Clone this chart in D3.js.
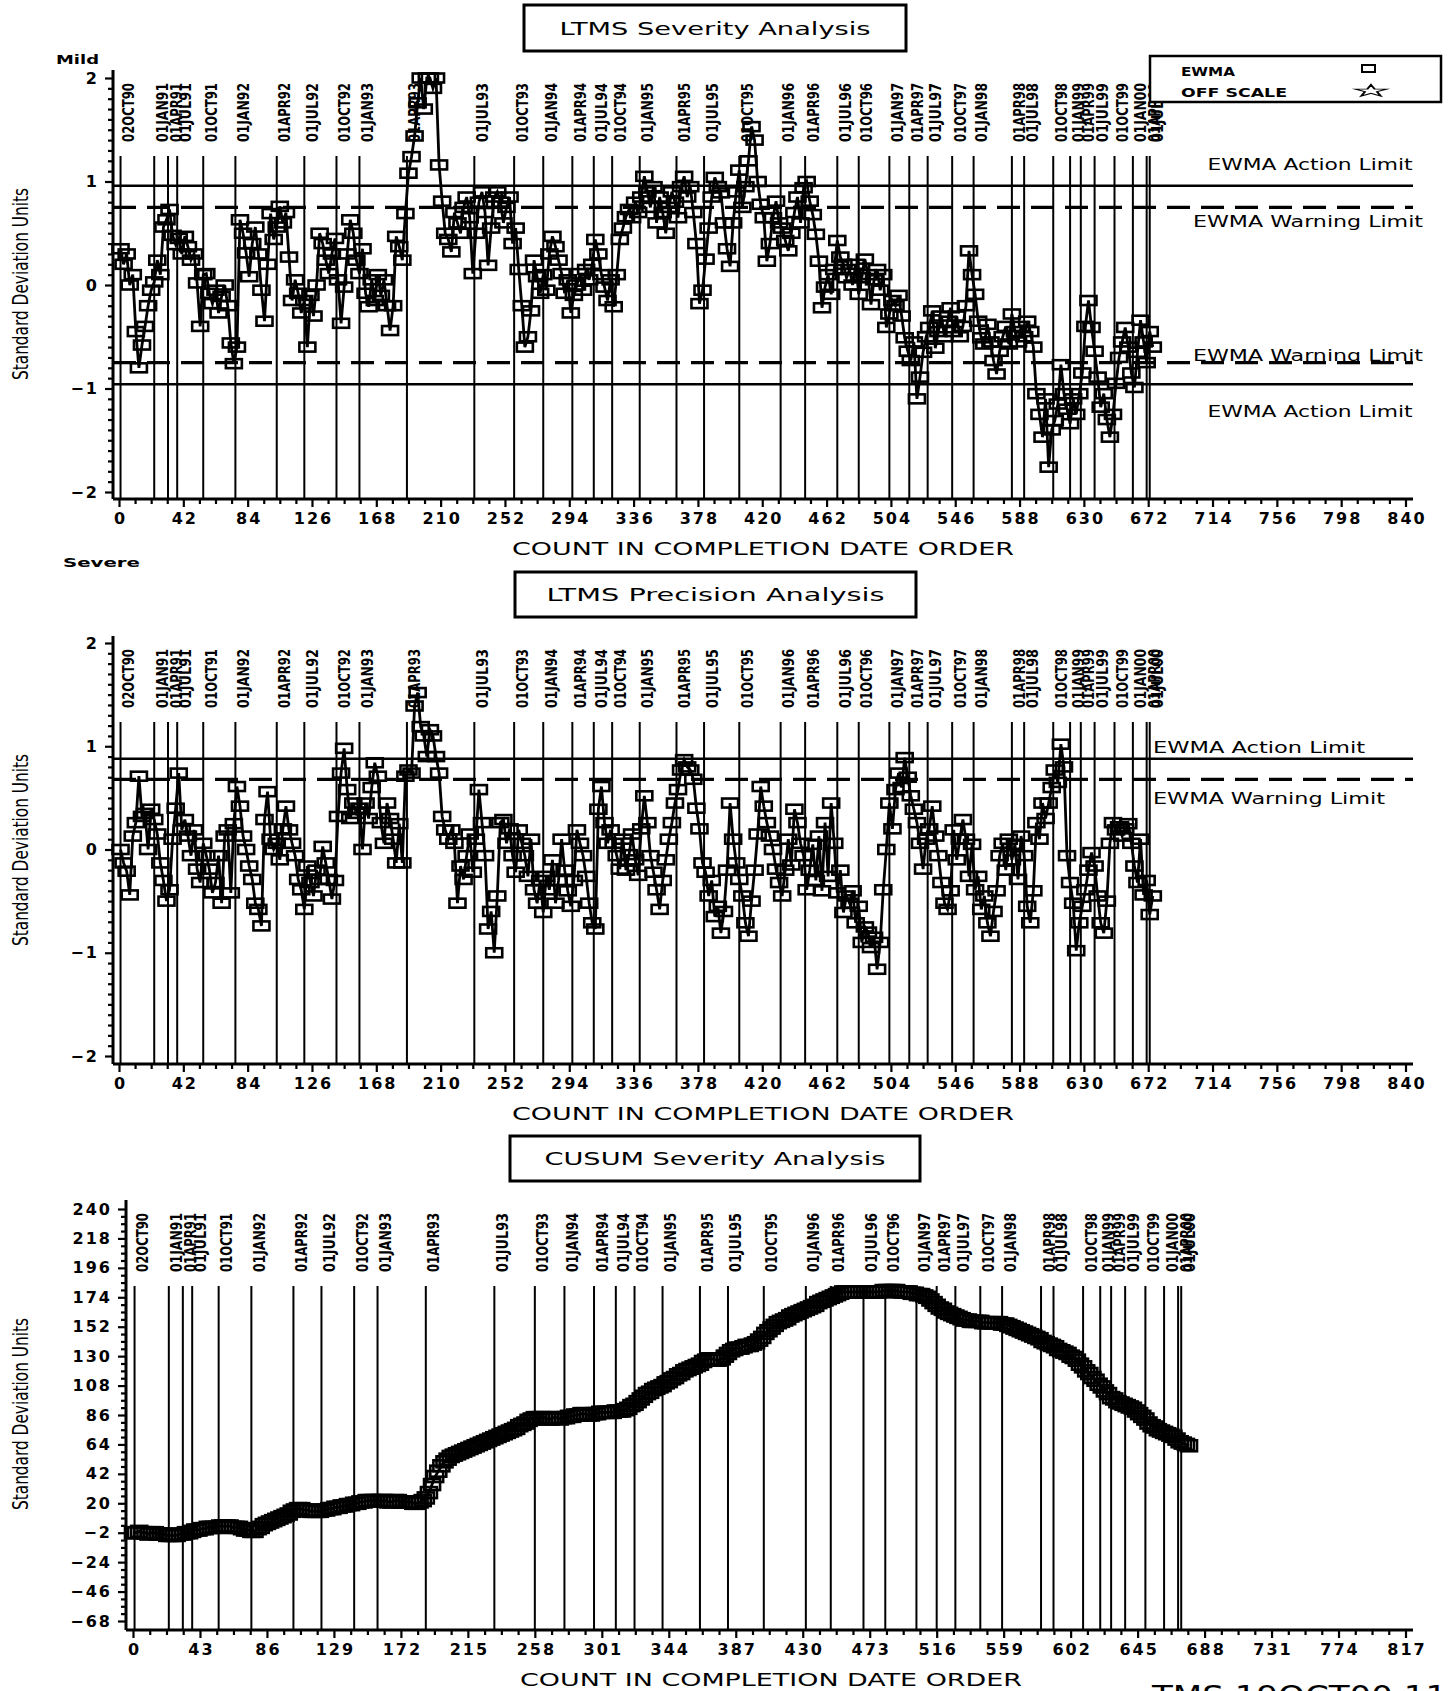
<!DOCTYPE html>
<html>
<head>
<meta charset="utf-8">
<script src="https://cdn.jsdelivr.net/npm/d3@7"></script>
<style>
  body { margin: 0; background: #fff; }
  svg { display: block; }
</style>
</head>
<body>
<svg id="chart" width="1452" height="1691"></svg>
<script>
// ---- Data -----------------------------------------------------------------

// Calendar reference lines: label and test count at which each date falls
const dateLabels = ["02OCT90","01JAN91","01APR91","01JUL91","01OCT91","01JAN92","01APR92","01JUL92",
  "01OCT92","01JAN93","01APR93","01JUL93","01OCT93","01JAN94","01APR94","01JUL94","01OCT94","01JAN95",
  "01APR95","01JUL95","01OCT95","01JAN96","01APR96","01JUL96","01OCT96","01JAN97","01APR97","01JUL97",
  "01OCT97","01JAN98","01APR98","01JUL98","01OCT98","01JAN99","01APR99","01JUL99","01OCT99","01JAN00",
  "01APR00","01JUL00"];
const dateCounts = [1,23,32,38,55,76,103,121,142,157,188,232,258,277,296,310,322,340,364,382,405,432,
  448,469,483,503,516,528,544,558,583,591,610,621,628,637,650,662,671,673];

// EWMA of severity, one value every 2nd test starting at count 1
const severityEwma = [
  0.35,0.20,0.30,0.00,0.10,-0.45,-0.80,-0.58,-0.40,-0.20,
  -0.05,0.03,0.24,0.10,0.56,0.63,0.73,0.48,0.39,0.45,
  0.30,0.47,0.37,0.24,0.30,0.02,-0.40,0.10,0.11,-0.08,
  -0.18,-0.05,-0.27,-0.11,0.00,-0.20,-0.56,-0.76,-0.60,0.63,
  0.50,0.31,0.08,0.40,0.56,0.30,-0.05,-0.35,0.20,0.69,
  0.44,0.56,0.76,0.60,0.70,0.27,-0.15,0.05,-0.08,-0.27,
  -0.15,-0.60,-0.10,-0.30,0.00,0.50,0.40,0.24,0.11,0.30,
  0.45,0.05,-0.37,-0.02,0.30,0.63,0.50,0.24,0.11,0.35,
  -0.08,-0.21,0.05,-0.15,0.10,-0.10,0.05,-0.20,-0.44,-0.20,
  0.47,0.37,0.24,0.69,1.08,1.24,1.44,1.76,2.00,1.70,
  2.00,2.00,1.90,2.00,1.16,0.81,0.50,0.44,0.32,0.70,
  0.60,0.50,0.75,0.85,0.65,0.11,0.50,0.80,0.90,0.70,
  0.19,0.55,0.85,0.90,0.80,0.60,0.75,0.85,0.40,0.55,
  0.15,-0.20,-0.60,-0.50,-0.25,0.24,0.08,-0.08,0.10,-0.05,
  0.30,0.47,0.37,0.24,0.11,-0.08,0.05,-0.27,-0.10,0.00,
  0.11,-0.05,0.15,0.05,0.20,0.44,0.30,0.10,-0.02,-0.15,
  0.05,-0.21,0.10,0.44,0.55,0.66,0.73,0.65,0.80,0.70,
  0.85,1.05,0.90,0.75,0.95,0.60,0.85,0.70,0.50,0.75,
  0.90,0.80,0.65,0.95,1.05,0.85,0.95,0.70,0.40,-0.18,
  -0.05,0.25,0.55,0.85,1.04,0.95,0.89,0.60,0.35,0.18,
  0.60,0.90,1.11,0.75,0.95,1.20,1.53,1.40,1.00,0.78,
  0.65,0.23,0.40,0.65,0.81,0.60,0.55,0.43,0.33,0.50,
  0.70,0.85,0.60,0.94,1.00,0.81,0.68,0.49,0.23,-0.22,
  -0.02,0.10,-0.09,0.15,0.43,0.27,0.20,0.07,0.15,0.00,
  0.20,-0.09,0.07,0.25,0.10,-0.19,0.05,0.15,-0.05,0.10,
  -0.41,-0.28,-0.15,-0.20,-0.10,-0.30,-0.51,-0.64,-0.73,-0.55,
  -1.10,-0.89,-0.65,-0.50,-0.41,-0.25,-0.61,-0.45,-0.30,-0.50,
  -0.35,-0.22,-0.45,-0.30,-0.50,-0.40,-0.20,0.33,0.10,-0.09,
  -0.35,-0.51,-0.57,-0.38,-0.55,-0.73,-0.86,-0.64,-0.50,-0.40,
  -0.57,-0.28,-0.45,-0.55,-0.40,-0.50,-0.35,-0.45,-0.60,-1.05,
  -1.25,-1.47,-1.10,-1.76,-1.40,-1.31,-1.15,-0.77,-1.05,-1.20,
  -1.34,-1.10,-1.25,-1.05,-0.85,-0.40,-0.15,-0.41,-0.64,-0.89,
  -1.18,-1.05,-1.30,-1.47,-1.25,-0.95,-0.70,-0.55,-0.41,-0.60,
  -0.85,-0.99,-0.65,-0.34,-0.55,-0.75,-0.45,-0.60
];

// EWMA of precision, one value every 2nd test starting at count 1
const precisionEwma = [
  0.00,-0.13,-0.21,-0.44,0.13,0.26,0.71,0.32,0.35,0.00,
  0.39,0.29,0.15,-0.13,-0.30,-0.50,-0.39,0.10,0.40,0.74,
  0.19,0.29,0.13,-0.06,0.19,-0.19,-0.32,0.06,-0.06,-0.19,
  -0.42,-0.32,-0.06,-0.52,0.13,0.19,-0.42,0.25,0.61,0.42,
  0.13,0.00,-0.16,-0.29,-0.52,-0.58,-0.74,0.29,0.56,0.10,
  0.00,0.06,-0.10,0.20,0.42,0.19,0.06,-0.06,-0.29,-0.39,
  -0.58,-0.16,-0.32,-0.45,-0.20,-0.29,0.03,-0.13,-0.29,-0.48,
  -0.30,0.32,0.74,0.98,0.58,0.30,0.45,0.35,0.40,0.00,
  0.45,0.30,0.60,0.84,0.71,0.26,0.06,0.45,0.30,0.10,
  -0.13,0.25,-0.13,0.71,0.77,0.74,1.39,1.52,1.19,1.10,
  0.90,1.16,1.10,0.90,0.74,0.32,0.19,0.10,0.19,0.06,
  -0.52,-0.16,-0.29,-0.06,0.15,-0.22,0.10,0.58,0.26,-0.06,
  -0.77,-0.60,-1.00,-0.45,0.26,0.29,0.06,0.20,-0.06,-0.22,
  0.19,0.06,-0.06,-0.26,0.10,-0.39,-0.52,-0.30,-0.61,-0.26,
  -0.39,-0.10,-0.52,-0.30,0.10,-0.20,-0.40,-0.55,-0.30,0.19,
  0.06,-0.06,-0.26,-0.52,-0.71,-0.77,0.39,0.61,0.26,0.06,
  0.19,0.06,-0.06,-0.19,0.10,-0.20,-0.05,0.15,-0.10,-0.25,
  0.20,0.52,0.26,-0.06,-0.22,-0.39,-0.58,-0.30,-0.10,0.10,
  0.26,0.45,0.58,0.77,0.87,0.80,0.77,0.68,0.40,0.20,
  -0.13,-0.22,-0.45,-0.30,-0.65,-0.55,-0.81,-0.60,-0.20,0.45,
  0.10,-0.13,-0.29,-0.45,-0.71,-0.84,-0.50,-0.20,0.15,0.61,
  0.42,0.26,0.13,0.00,-0.19,-0.32,-0.45,-0.20,0.10,-0.15,
  0.39,0.26,0.06,-0.06,-0.39,-0.20,0.05,-0.30,0.13,-0.40,
  0.26,-0.26,0.45,0.06,-0.42,-0.20,-0.61,-0.45,-0.52,-0.40,
  -0.71,-0.55,-0.90,-0.75,-0.80,-0.95,-0.85,-1.16,-0.90,-0.39,
  0.00,0.45,0.20,0.58,0.74,0.60,0.89,0.70,0.52,0.39,
  0.26,0.06,-0.19,0.10,0.20,0.42,0.13,-0.06,-0.32,-0.52,
  -0.58,-0.40,0.19,-0.10,0.10,0.29,0.10,-0.26,0.05,-0.39,
  -0.26,-0.58,-0.45,-0.71,-0.84,-0.60,-0.40,-0.06,0.06,-0.20,
  0.10,-0.10,0.05,-0.29,0.13,-0.06,-0.55,-0.71,-0.40,0.26,
  0.10,0.45,0.30,0.45,0.60,0.77,0.65,1.02,0.80,-0.06,
  -0.32,-0.52,-0.98,-0.71,-0.55,-0.39,-0.20,-0.03,-0.16,-0.45,
  -0.71,-0.81,-0.50,0.06,0.26,0.19,0.22,0.13,0.20,0.25,
  0.06,-0.16,-0.32,0.10,-0.44,-0.30,-0.63,-0.45
];

// CUSUM of severity, one value every 2nd test starting at count 0
const cusumSeverity = [
  -2,-2,-1,-2,-2,-3,-2,-2,-3,-3,
  -3,-4,-4,-4,-4,-3,-3,-2,-2,-1,
  0,0,1,1,2,2,2,2,3,3,
  3,3,2,2,2,1,0,0,-1,-1,
  1,2,4,5,6,7,8,9,10,11,
  12,14,15,16,16,15,15,14,14,14,
  14,15,15,16,16,17,17,18,18,19,
  19,20,20,21,21,22,22,22,22,22,
  22,22,21,21,22,22,21,21,21,21,
  20,20,21,22,24,28,34,40,44,48,
  51,53,55,56,57,58,59,60,61,62,
  63,64,65,66,67,68,69,70,71,72,
  73,74,75,76,78,79,80,82,83,84,
  84,84,84,83,83,84,84,83,84,84,
  85,85,86,86,87,87,86,86,87,87,
  88,88,88,88,88,89,89,89,90,91,
  93,94,96,98,100,102,103,105,106,107,
  108,110,111,113,114,116,117,119,120,121,
  122,123,124,126,127,128,128,127,127,128,
  130,132,134,135,136,136,137,138,138,139,
  140,142,144,147,149,151,153,155,156,157,
  158,160,161,162,163,164,165,166,167,168,
  170,171,172,173,174,175,176,177,178,178,
  178,178,178,178,178,178,178,178,178,178,
  178,179,179,179,179,179,178,178,178,178,
  177,177,176,176,175,174,172,170,168,166,
  165,163,162,161,160,159,158,157,157,156,
  156,156,156,155,155,155,155,155,155,154,
  154,153,152,151,150,149,148,147,146,145,
  144,143,141,140,139,138,137,135,134,133,
  132,130,129,127,124,122,119,117,114,112,
  109,107,104,102,99,98,96,95,94,93,
  92,91,89,87,85,83,80,78,77,75,
  74,73,72,71,70,68,66,65,64,63
];

// Axis ticks
const ewmaTicksX = [0,42,84,126,168,210,252,294,336,378,420,462,504,546,588,630,672,714,756,798,840];
const ewmaTicksY = [-2,-1,0,1,2];
const cusumTicksX = [0,43,86,129,172,215,258,301,344,387,430,473,516,559,602,645,688,731,774,817];
const cusumTicksY = [-68,-46,-24,-2,20,42,64,86,108,130,152,174,196,218,240];

// EWMA control limits
const severityLimits = { action: 0.958, warning: 0.75 };
const precisionLimits = { action: 0.88, warning: 0.68 };

// ---- Drawing --------------------------------------------------------------

const svg = d3.select("#chart");
const WIDE = "'DejaVu Sans', Verdana, sans-serif";
const NARROW = "'Liberation Sans Narrow', 'DejaVu Sans Condensed', 'Arial Narrow', sans-serif";

function label(parent, str, x, y, o = {}) {
  const t = parent.append("text")
    .attr("x", x).attr("y", y)
    .attr("font-family", o.family || WIDE)
    .attr("font-size", o.size || 16)
    .attr("font-weight", o.weight || "normal")
    .attr("text-anchor", o.anchor || "start")
    .attr("fill", "#000")
    .text(str);
  if (o.length) t.attr("textLength", o.length).attr("lengthAdjust", "spacingAndGlyphs");
  if (o.transform) t.attr("transform", o.transform);
  return t;
}

function drawPanel(p) {
  const g = svg.append("g");
  const x = d3.scaleLinear().domain(p.xDomain).range(p.xRange);
  const y = d3.scaleLinear().domain(p.yDomain).range(p.yRange);
  const xEnd = 1413;

  // Boxed title
  g.append("rect")
    .attr("x", p.title.x0).attr("y", p.title.y0)
    .attr("width", p.title.x1 - p.title.x0).attr("height", p.title.y1 - p.title.y0)
    .attr("fill", "none").attr("stroke", "#000").attr("stroke-width", 3);
  label(g, p.title.text, (p.title.x0 + p.title.x1) / 2, p.title.base,
    { anchor: "middle", size: 18, length: p.title.len });

  // Vertical axis title
  label(g, "Standard Deviation Units", 0, 0, {
    family: NARROW, size: 21, anchor: "middle", length: 192,
    transform: `translate(28,${p.yTitleY}) rotate(-90)`
  });

  // Calendar reference lines with rotated date labels
  const dg = g.append("g");
  dateCounts.forEach((c, i) => {
    const xx = x(c);
    dg.append("line")
      .attr("x1", xx).attr("x2", xx)
      .attr("y1", p.dateTop).attr("y2", p.axisY)
      .attr("stroke", "#000").attr("stroke-width", 2);
    label(dg, dateLabels[i], 0, 0, {
      family: NARROW, size: 16, weight: "bold", length: 59,
      transform: `translate(${xx + 13.5},${p.dateTop - 14}) rotate(-90)`
    });
  });

  // Control limit lines
  if (p.limits) {
    const lim = p.limits;
    const vals = p.lower
      ? [[lim.action, false], [lim.warning, true], [-lim.warning, true], [-lim.action, false]]
      : [[lim.action, false], [lim.warning, true]];
    vals.forEach(([v, dashed]) => {
      g.append("line")
        .attr("x1", p.axisX).attr("x2", xEnd)
        .attr("y1", y(v)).attr("y2", y(v))
        .attr("stroke", "#000")
        .attr("stroke-width", dashed ? 3.2 : 2.5)
        .attr("stroke-dasharray", dashed ? "23,11" : null);
    });
    p.limitLabels.forEach(l => label(g, l.text, l.x, l.y,
      { anchor: l.anchor, size: 16, length: l.len }));
  }

  // Series: connecting line plus square markers
  const pts = p.values.map((v, i) => ({ c: p.start + p.step * i, v }));
  g.append("path")
    .datum(pts)
    .attr("fill", "none").attr("stroke", "#000").attr("stroke-width", 2.8)
    .attr("d", d3.line().x(d => x(d.c)).y(d => y(d.v)));
  g.append("g").selectAll("rect").data(pts).join("rect")
    .attr("x", d => x(d.c) - 8).attr("y", d => y(d.v) - p.markH / 2)
    .attr("width", 16).attr("height", p.markH)
    .attr("fill", "none").attr("stroke", "#000").attr("stroke-width", 2.6);

  // Axes
  const majorX = d3.axisBottom(x).tickValues(p.xTicks).tickSize(8).tickPadding(6).tickFormat(d3.format("d"));
  const minorX = d3.axisBottom(x).tickValues(p.xMinor).tickSize(5).tickFormat("");
  const gxm = g.append("g").attr("transform", `translate(0,${p.axisY})`).call(minorX);
  const gx = g.append("g").attr("transform", `translate(0,${p.axisY})`).call(majorX);
  const majorY = d3.axisLeft(y).tickValues(p.yTicks).tickSize(8).tickPadding(6).tickFormat(d3.format("d"));
  const minorY = d3.axisLeft(y).tickValues(p.yMinor).tickSize(5).tickFormat("");
  const gym = g.append("g").attr("transform", `translate(${p.axisX},0)`).call(minorY);
  const gy = g.append("g").attr("transform", `translate(${p.axisX},0)`).call(majorY);
  [gx, gxm, gy, gym].forEach(a => {
    a.select(".domain").remove();
    a.selectAll(".tick line").attr("stroke", "#000").attr("stroke-width", 2.2);
    a.selectAll(".tick text")
      .attr("font-family", WIDE).attr("font-weight", "bold")
      .attr("font-size", 16).attr("letter-spacing", 2).attr("fill", "#000");
  });
  gx.selectAll(".tick text").attr("dx", 1);
  g.append("line").attr("x1", p.axisX).attr("x2", xEnd)
    .attr("y1", p.axisY).attr("y2", p.axisY)
    .attr("stroke", "#000").attr("stroke-width", 3);
  g.append("line").attr("x1", p.axisX).attr("x2", p.axisX)
    .attr("y1", p.yTop).attr("y2", p.axisY)
    .attr("stroke", "#000").attr("stroke-width", 3);

  label(g, "COUNT IN COMPLETION DATE ORDER", p.xTitleX, p.xTitleY,
    { anchor: "middle", size: 17, length: 502 });
}

function minorTicks(lo, hi, step, majors) {
  return d3.range(lo, hi + 1e-9, step).filter(v => !majors.some(m => Math.abs(m - v) < 1e-6));
}

// Panel 1: EWMA severity
drawPanel({
  title: { text: "LTMS Severity Analysis", x0: 524, x1: 906, y0: 5, y1: 51, base: 35, len: 311 },
  xDomain: [0, 840], xRange: [119, 1405.5],
  yDomain: [-2, 2], yRange: [492, 78],
  axisX: 113, axisY: 499, yTop: 70, dateTop: 156, yTitleY: 284,
  xTicks: ewmaTicksX, xMinor: minorTicks(0, 840, 10.5, ewmaTicksX),
  yTicks: ewmaTicksY, yMinor: minorTicks(-2, 2, 0.1, ewmaTicksY),
  limits: severityLimits, lower: true,
  limitLabels: [
    { text: "EWMA Action Limit", x: 1310, y: 170, anchor: "middle", len: 205 },
    { text: "EWMA Warning Limit", x: 1308, y: 227, anchor: "middle", len: 230 },
    { text: "EWMA Warning Limit", x: 1308, y: 361, anchor: "middle", len: 230 },
    { text: "EWMA Action Limit", x: 1310, y: 417, anchor: "middle", len: 205 }
  ],
  values: severityEwma, start: 1, step: 2, markH: 9,
  xTitleX: 763, xTitleY: 555
});

// Panel 2: EWMA precision
drawPanel({
  title: { text: "LTMS Precision Analysis", x0: 515, x1: 916, y0: 572, y1: 617, base: 601, len: 338 },
  xDomain: [0, 840], xRange: [119, 1405.5],
  yDomain: [-2, 2], yRange: [1056, 643],
  axisX: 113, axisY: 1064, yTop: 636, dateTop: 722, yTitleY: 850,
  xTicks: ewmaTicksX, xMinor: minorTicks(0, 840, 10.5, ewmaTicksX),
  yTicks: ewmaTicksY, yMinor: minorTicks(-2, 2, 0.1, ewmaTicksY),
  limits: precisionLimits, lower: false,
  limitLabels: [
    { text: "EWMA Action Limit", x: 1153, y: 753, anchor: "start", len: 212 },
    { text: "EWMA Warning Limit", x: 1153, y: 804, anchor: "start", len: 232 }
  ],
  values: precisionEwma, start: 1, step: 2, markH: 9,
  xTitleX: 763, xTitleY: 1120
});

// Panel 3: CUSUM severity
drawPanel({
  title: { text: "CUSUM Severity Analysis", x0: 510, x1: 920, y0: 1136, y1: 1181, base: 1165, len: 341 },
  xDomain: [0, 817], xRange: [133, 1405.5],
  yDomain: [-68, 240], yRange: [1621, 1209],
  axisX: 126, axisY: 1630, yTop: 1200, dateTop: 1286, yTitleY: 1414,
  xTicks: cusumTicksX, xMinor: minorTicks(0, 817, 10.75, cusumTicksX),
  yTicks: cusumTicksY, yMinor: minorTicks(-68, 240, 5.5, cusumTicksY),
  limits: null,
  values: cusumSeverity, start: 0, step: 2, markH: 11,
  xTitleX: 771, xTitleY: 1686
});

// Direction markers on the severity chart
label(svg, "Mild", 56, 64, { size: 13, weight: "bold", length: 43 });
label(svg, "Severe", 63, 567, { size: 13, weight: "bold", length: 77 });

// Legend
const lg = svg.append("g");
lg.append("rect").attr("x", 1150).attr("y", 56).attr("width", 291).attr("height", 46)
  .attr("fill", "#fff").attr("stroke", "#000").attr("stroke-width", 2.5);
label(lg, "EWMA", 1181, 76, { size: 12, weight: "bold", length: 54 });
label(lg, "OFF SCALE", 1181, 97, { size: 12, weight: "bold", length: 106 });
lg.append("rect").attr("x", 1362).attr("y", 65).attr("width", 13).attr("height", 7)
  .attr("fill", "none").attr("stroke", "#000").attr("stroke-width", 2);
lg.append("path")
  .attr("d", d3.symbol().type(d3.symbolStar).size(120)())
  .attr("transform", "translate(1371,91) scale(1.6,0.6)")
  .attr("fill", "none").attr("stroke", "#000").attr("stroke-width", 1.5);

// Run stamp
label(svg, "TMS 19OCT00 11:00", 1152, 1706, { size: 28, length: 350 });
</script>
</body>
</html>
